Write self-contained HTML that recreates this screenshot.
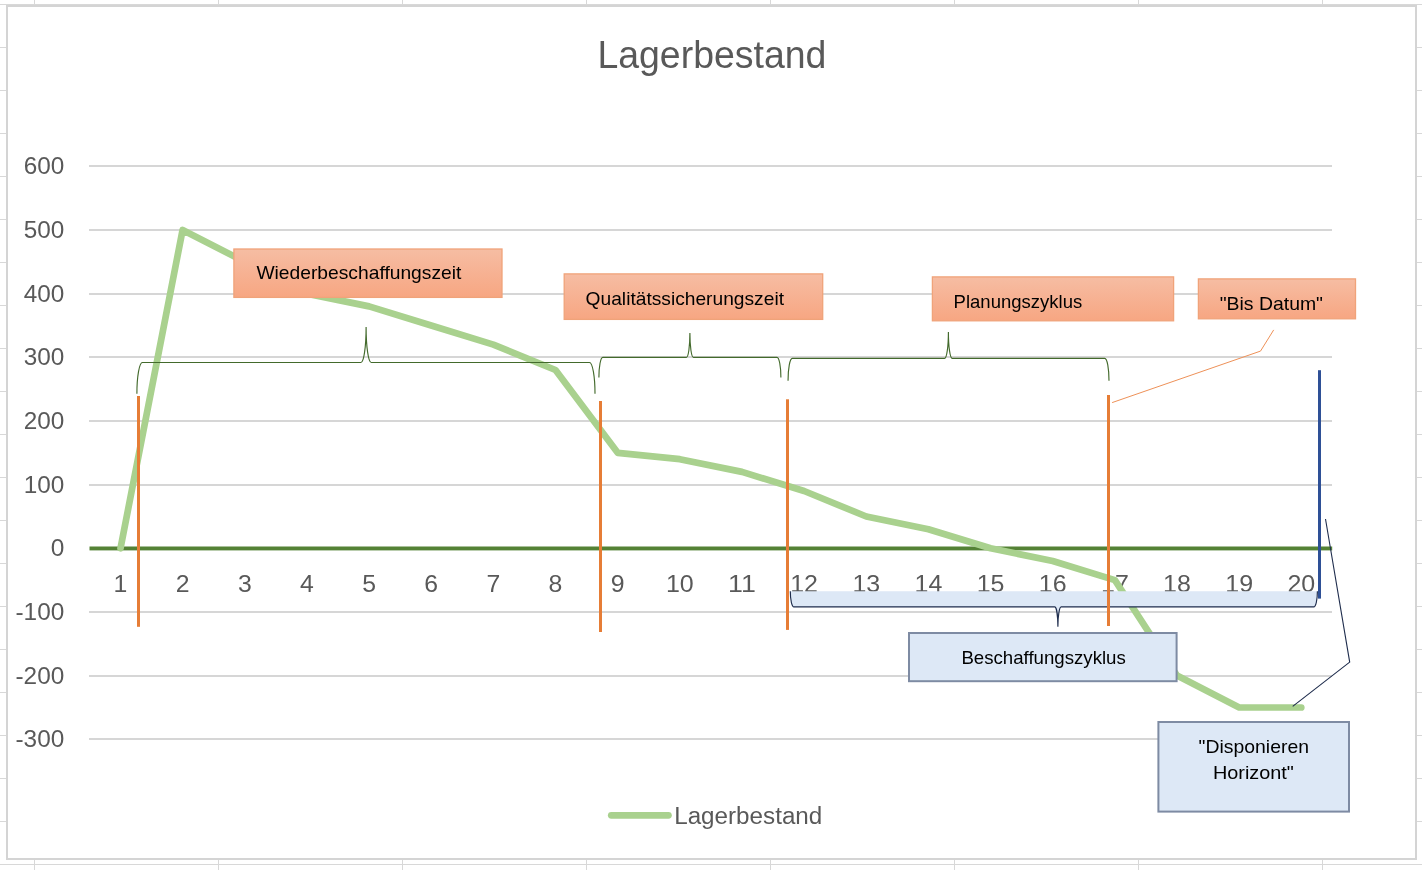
<!DOCTYPE html>
<html lang="de"><head><meta charset="utf-8"><title>Lagerbestand</title>
<style>html,body{margin:0;padding:0;background:#fff;overflow:hidden}svg{display:block}text{font-family:"Liberation Sans",sans-serif}</style></head><body>
<svg width="1422" height="870" viewBox="0 0 1422 870">
<defs><linearGradient id="og" x1="0" y1="0" x2="0" y2="1"><stop offset="0" stop-color="#f6bda3"/><stop offset="1" stop-color="#f7a682"/></linearGradient></defs>
<rect width="1422" height="870" fill="#fff"/>
<g fill="#d8d8d8" shape-rendering="crispEdges">
<rect x="0" y="4" width="1422" height="1"/>
<rect x="0" y="47" width="1422" height="1"/>
<rect x="0" y="90" width="1422" height="1"/>
<rect x="0" y="133" width="1422" height="1"/>
<rect x="0" y="176" width="1422" height="1"/>
<rect x="0" y="219" width="1422" height="1"/>
<rect x="0" y="262" width="1422" height="1"/>
<rect x="0" y="305" width="1422" height="1"/>
<rect x="0" y="348" width="1422" height="1"/>
<rect x="0" y="391" width="1422" height="1"/>
<rect x="0" y="434" width="1422" height="1"/>
<rect x="0" y="477" width="1422" height="1"/>
<rect x="0" y="520" width="1422" height="1"/>
<rect x="0" y="563" width="1422" height="1"/>
<rect x="0" y="606" width="1422" height="1"/>
<rect x="0" y="649" width="1422" height="1"/>
<rect x="0" y="692" width="1422" height="1"/>
<rect x="0" y="735" width="1422" height="1"/>
<rect x="0" y="778" width="1422" height="1"/>
<rect x="0" y="821" width="1422" height="1"/>
<rect x="0" y="864" width="1422" height="1"/>
<rect x="34" y="0" width="1" height="870"/>
<rect x="218" y="0" width="1" height="870"/>
<rect x="402" y="0" width="1" height="870"/>
<rect x="586" y="0" width="1" height="870"/>
<rect x="770" y="0" width="1" height="870"/>
<rect x="954" y="0" width="1" height="870"/>
<rect x="1138" y="0" width="1" height="870"/>
<rect x="1322" y="0" width="1" height="870"/>
</g>
<rect x="7" y="6" width="1409" height="853" fill="#fff" stroke="#d4d4d4" stroke-width="2" shape-rendering="crispEdges"/>
<text x="711.9" y="68.2" font-size="38" fill="#595959" text-anchor="middle" textLength="229" lengthAdjust="spacingAndGlyphs">Lagerbestand</text>
<g fill="#d6d6d6" shape-rendering="crispEdges">
<rect x="89" y="165" width="1243" height="2"/>
<rect x="89" y="229" width="1243" height="2"/>
<rect x="89" y="293" width="1243" height="2"/>
<rect x="89" y="356" width="1243" height="2"/>
<rect x="89" y="420" width="1243" height="2"/>
<rect x="89" y="484" width="1243" height="2"/>
<rect x="89" y="611" width="1243" height="2"/>
<rect x="89" y="675" width="1243" height="2"/>
<rect x="89" y="738" width="1243" height="2"/>
</g>
<g font-size="23.5" fill="#595959" text-anchor="end">
<text x="64.3" y="174.0" textLength="40.6" lengthAdjust="spacingAndGlyphs">600</text>
<text x="64.3" y="238.0" textLength="40.6" lengthAdjust="spacingAndGlyphs">500</text>
<text x="64.3" y="302.0" textLength="40.6" lengthAdjust="spacingAndGlyphs">400</text>
<text x="64.3" y="365.0" textLength="40.6" lengthAdjust="spacingAndGlyphs">300</text>
<text x="64.3" y="429.0" textLength="40.6" lengthAdjust="spacingAndGlyphs">200</text>
<text x="64.3" y="493.0" textLength="40.6" lengthAdjust="spacingAndGlyphs">100</text>
<text x="64.3" y="556.3" textLength="13.6" lengthAdjust="spacingAndGlyphs">0</text>
<text x="64.3" y="620.0" textLength="48.8" lengthAdjust="spacingAndGlyphs">-100</text>
<text x="64.3" y="684.0" textLength="48.8" lengthAdjust="spacingAndGlyphs">-200</text>
<text x="64.3" y="747.0" textLength="48.8" lengthAdjust="spacingAndGlyphs">-300</text>
</g>
<g font-size="23.5" fill="#595959" text-anchor="middle">
<text x="120.5" y="591.7" textLength="13.8" lengthAdjust="spacingAndGlyphs">1</text>
<text x="182.6" y="591.7" textLength="13.8" lengthAdjust="spacingAndGlyphs">2</text>
<text x="244.8" y="591.7" textLength="13.8" lengthAdjust="spacingAndGlyphs">3</text>
<text x="306.9" y="591.7" textLength="13.8" lengthAdjust="spacingAndGlyphs">4</text>
<text x="369.1" y="591.7" textLength="13.8" lengthAdjust="spacingAndGlyphs">5</text>
<text x="431.2" y="591.7" textLength="13.8" lengthAdjust="spacingAndGlyphs">6</text>
<text x="493.4" y="591.7" textLength="13.8" lengthAdjust="spacingAndGlyphs">7</text>
<text x="555.5" y="591.7" textLength="13.8" lengthAdjust="spacingAndGlyphs">8</text>
<text x="617.7" y="591.7" textLength="13.8" lengthAdjust="spacingAndGlyphs">9</text>
<text x="679.8" y="591.7" textLength="27.8" lengthAdjust="spacingAndGlyphs">10</text>
<text x="742.0" y="591.7" textLength="27.8" lengthAdjust="spacingAndGlyphs">11</text>
<text x="804.1" y="591.7" textLength="27.8" lengthAdjust="spacingAndGlyphs">12</text>
<text x="866.3" y="591.7" textLength="27.8" lengthAdjust="spacingAndGlyphs">13</text>
<text x="928.4" y="591.7" textLength="27.8" lengthAdjust="spacingAndGlyphs">14</text>
<text x="990.6" y="591.7" textLength="27.8" lengthAdjust="spacingAndGlyphs">15</text>
<text x="1052.7" y="591.7" textLength="27.8" lengthAdjust="spacingAndGlyphs">16</text>
<text x="1114.9" y="591.7" textLength="27.8" lengthAdjust="spacingAndGlyphs">17</text>
<text x="1177.0" y="591.7" textLength="27.8" lengthAdjust="spacingAndGlyphs">18</text>
<text x="1239.2" y="591.7" textLength="27.8" lengthAdjust="spacingAndGlyphs">19</text>
<text x="1301.3" y="591.7" textLength="27.8" lengthAdjust="spacingAndGlyphs">20</text>
</g>
<rect x="89.5" y="546.5" width="1242.7" height="3.9" fill="#548235"/>
<polyline points="120.5,548.3 182.6,230.0 244.8,261.8 306.9,293.6 369.1,306.4 431.2,325.5 493.4,344.6 555.5,370.0 617.7,452.8 679.8,459.2 742.0,471.9 804.1,491.0 866.3,516.5 928.4,529.2 990.6,548.3 1052.7,561.0 1114.9,580.1 1177.0,675.6 1239.2,707.5 1301.3,707.5" fill="none" stroke="#a9d18e" stroke-width="6.7" stroke-linejoin="round" stroke-linecap="round"/>
<path d="M790.3,591.2 A3.6,15.699999999999932 0 0 0 793.9,606.9 L1054.6000000000001,606.9 A3.3,19.800000000000068 0 0 1 1057.9,626.7 A3.3,19.800000000000068 0 0 1 1061.2,606.9 L1313.8000000000002,606.9 A3.6,15.699999999999932 0 0 0 1317.4,591.2 Z" fill="#dde8f6"/>
<path d="M790.3,591.2 A3.6,15.699999999999932 0 0 0 793.9,606.9 L1054.6000000000001,606.9 A3.3,19.800000000000068 0 0 1 1057.9,626.7 A3.3,19.800000000000068 0 0 1 1061.2,606.9 L1313.8000000000002,606.9 A3.6,15.699999999999932 0 0 0 1317.4,591.2" fill="none" stroke="#1f2d4d" stroke-width="1.15"/>
<rect x="233.9" y="249.0" width="268.1" height="48.4" fill="url(#og)" stroke="#f0a37a" stroke-width="1.3"/>
<rect x="564.2" y="273.9" width="258.5" height="45.5" fill="url(#og)" stroke="#f0a37a" stroke-width="1.3"/>
<rect x="932.4" y="276.9" width="241.2" height="43.9" fill="url(#og)" stroke="#f0a37a" stroke-width="1.3"/>
<rect x="1198.4" y="278.9" width="157.1" height="39.9" fill="url(#og)" stroke="#f0a37a" stroke-width="1.3"/>
<g font-size="19" fill="#000">
<text x="256.4" y="279.3" textLength="205" lengthAdjust="spacingAndGlyphs">Wiederbeschaffungszeit</text>
<text x="585.6" y="304.6" textLength="198.4" lengthAdjust="spacingAndGlyphs">Qualitätssicherungszeit</text>
<text x="953.6" y="308" textLength="128.6" lengthAdjust="spacingAndGlyphs">Planungszyklus</text>
<text x="1219.7" y="309.9" textLength="103.3" lengthAdjust="spacingAndGlyphs">"Bis Datum"</text>
</g>
<path d="M136.9,393.7 A5.5,31.19999999999999 0 0 1 142.4,362.5 L360.95000000000005,362.5 A5.15,35.60000000000002 0 0 0 366.1,326.9 A5.15,35.60000000000002 0 0 0 371.25,362.5 L589.5,362.5 A5.5,31.30000000000001 0 0 1 595.0,393.8" fill="none" stroke="#436a2c" stroke-width="1.15"/>
<path d="M598.9,377.6 A3.9,20.30000000000001 0 0 1 602.8,357.3 L686.4,357.3 A3.5,24.19999999999999 0 0 0 689.9,333.1 A3.5,24.19999999999999 0 0 0 693.4,357.3 L777.0,357.3 A3.9,20.30000000000001 0 0 1 780.9,377.6" fill="none" stroke="#436a2c" stroke-width="1.15"/>
<path d="M788.05,380.8 A4.2,22.400000000000034 0 0 1 792.25,358.4 L944.6,358.4 A3.8,26.5 0 0 0 948.4,331.9 A3.8,26.5 0 0 0 952.1999999999999,358.4 L1104.8,358.4 A4.2,22.400000000000034 0 0 1 1109.0,380.8" fill="none" stroke="#436a2c" stroke-width="1.15"/>
<g fill="#e67d36">
<rect x="137" y="396" width="3" height="230.8"/>
<rect x="599" y="401" width="3" height="231"/>
<rect x="786" y="399.3" width="3" height="230.6"/>
<rect x="1107" y="395" width="3" height="231"/>
</g>
<polyline points="1273.7,329.9 1260.5,351.1 1112.1,402.6" fill="none" stroke="#ee9158" stroke-width="1"/>
<rect x="1318" y="370.2" width="3" height="228.4" fill="#2e5096"/>
<polyline points="1325.5,519 1349.7,662.1 1292.7,706.4" fill="none" stroke="#1f2d4d" stroke-width="1.1"/>
<rect x="909" y="633" width="267.6" height="48.2" fill="#dde8f6" stroke="#7e8ba3" stroke-width="2"/>
<rect x="1158.4" y="722" width="190.6" height="89.6" fill="#dde8f6" stroke="#7e8ba3" stroke-width="2"/>
<g font-size="19" fill="#000" text-anchor="middle">
<text x="1043.6" y="663.5" textLength="164.4" lengthAdjust="spacingAndGlyphs">Beschaffungszyklus</text>
<text x="1253.8" y="753.4" textLength="110.4" lengthAdjust="spacingAndGlyphs">"Disponieren</text>
<text x="1253.4" y="778.5" textLength="81" lengthAdjust="spacingAndGlyphs">Horizont"</text>
</g>
<line x1="611.3" y1="815.3" x2="668.4" y2="815.3" stroke="#a9d18e" stroke-width="6.8" stroke-linecap="round"/>
<text x="674.2" y="823.6" font-size="23.5" fill="#595959" textLength="148.1" lengthAdjust="spacingAndGlyphs">Lagerbestand</text>
</svg></body></html>
